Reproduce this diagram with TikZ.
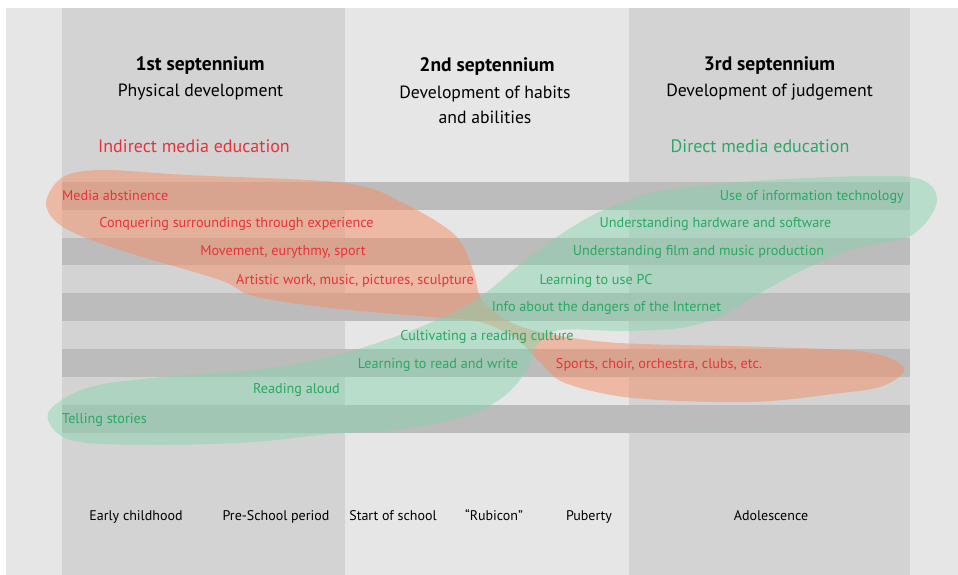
\documentclass[tikz,border=0pt]{standalone}
\usepackage{fontspec}
\setmainfont{PT Sans}

\definecolor{bgpale}{HTML}{E6E6E6}
\definecolor{colgray}{HTML}{D3D3D3}
\definecolor{bandgray}{HTML}{BCBCBC}
\definecolor{txtred}{HTML}{E8323A}
\definecolor{txtgreen}{HTML}{2BA864}
\definecolor{blobred}{RGB}{244,142,100}
\definecolor{blobgreen}{RGB}{130,212,172}

\tikzset{
  phase/.style={font=\bfseries\fontsize{19.5}{25}\selectfont},
  aim/.style={font=\fontsize{17.7}{25}\selectfont, align=center},
  approach/.style={font=\fontsize{18}{22}\selectfont},
  item/.style={font=\fontsize{14.2}{16}\selectfont, inner sep=0pt, text height=1.5ex, text depth=.3ex, yshift=-1.5pt},
  redbox/.style={item, text=txtred},
  greenbox/.style={item, text=txtgreen},
  age/.style={item, font=\fontsize{14}{16}\selectfont, text=black},
}

\begin{document}
\begin{tikzpicture}[x=1pt,y=-1pt]
  \useasboundingbox (0,0) rectangle (958,575);
  % background, columns and stripes
  \fill [bgpale] (6,8) rectangle (958,575);
  \fill [colgray] (62,8) rectangle (345,575);
  \fill [colgray] (629,8) rectangle (910,575);
  \foreach \y in {182,237.5,293,349,405}
    \fill [bandgray] (62,\y) rectangle (910,\y+27.5);

  % the two areas
  \fill [blobred, fill opacity=0.5] plot [smooth cycle, tension=0.55] coordinates {
    (46,203) (63,177) (103,170) (187,175) (345,183) (403,203) (455,235)
    (473,270) (482,300) (510,322) (550,334) (620,343) (767,347) (867,352)
    (904,368) (883,386) (833,394) (750,402) (633,398) (565,383) (540,362)
    (515,338) (480,322) (430,317) (330,308) (253,296) (220,280) (120,250)
    (63,227)};
  \fill [blobgreen, fill opacity=0.45] plot [smooth cycle, tension=0.55] coordinates {
    (48,413) (87,388) (153,378) (253,370) (330,357) (397,336) (450,314)
    (483,295) (517,267) (557,237) (597,213) (650,193) (700,186) (787,179)
    (910,177) (937,200) (912,235) (853,249) (803,270) (753,297) (720,317)
    (680,328) (620,331) (560,330) (537,345) (527,370) (503,397) (463,417)
    (397,430) (330,434) (253,442) (153,445) (70,440)};

  % headings
  \node [phase] (first) at (200,66) {1st septennium};
  \node [aim] (physical) at (200.5,92) {Physical development};
  \node [approach, text=txtred] (indirect) at (194,146) {Indirect media education};
  \node [phase] (second) at (487,66) {2nd septennium};
  \node [aim] (habits) at (485,104.5) {Development of habits\\and abilities};
  \node [phase] (third) at (769.5,66) {3rd septennium};
  \node [aim] (judgement) at (769.5,92) {Development of judgement};
  \node [approach, text=txtgreen] (direct) at (760,146) {Direct media education};

  % items
  \node [redbox, anchor=west] (abstinence) at (62,196) {Media abstinence};
  \node [redbox] (conquering) at (236.5,223) {Conquering surroundings through experience};
  \node [redbox] (movement) at (283,251) {Movement, eurythmy, sport};
  \node [redbox] (artistic) at (355,280) {Artistic work, music, pictures, sculpture};
  \node [redbox] (sports) at (659,364) {Sports, choir, orchestra, clubs, etc.};
  \node [greenbox, anchor=east] (infotech) at (904,196) {Use of information technology};
  \node [greenbox] (hardware) at (715.5,223) {Understanding hardware and software};
  \node [greenbox] (film) at (698.5,251) {Understanding film and music production};
  \node [greenbox] (pc) at (596,280) {Learning to use PC};
  \node [greenbox] (dangers) at (606.5,307) {Info about the dangers of the Internet};
  \node [greenbox] (culture) at (487,336) {Cultivating a reading culture};
  \node [greenbox] (readwrite) at (438,364) {Learning to read and write};
  \node [greenbox] (aloud) at (296.5,389) {Reading aloud};
  \node [greenbox, anchor=west] (stories) at (62,419) {Telling stories};

  % stages of life
  \node [age] (early) at (136,516) {Early childhood};
  \node [age] (preschool) at (276,516) {Pre-School period};
  \node [age] (school) at (393,516) {Start of school};
  \node [age] (rubicon) at (494,516) {“Rubicon”};
  \node [age] (puberty) at (589,516) {Puberty};
  \node [age] (adolescence) at (771,516) {Adolescence};
\end{tikzpicture}
\end{document}
